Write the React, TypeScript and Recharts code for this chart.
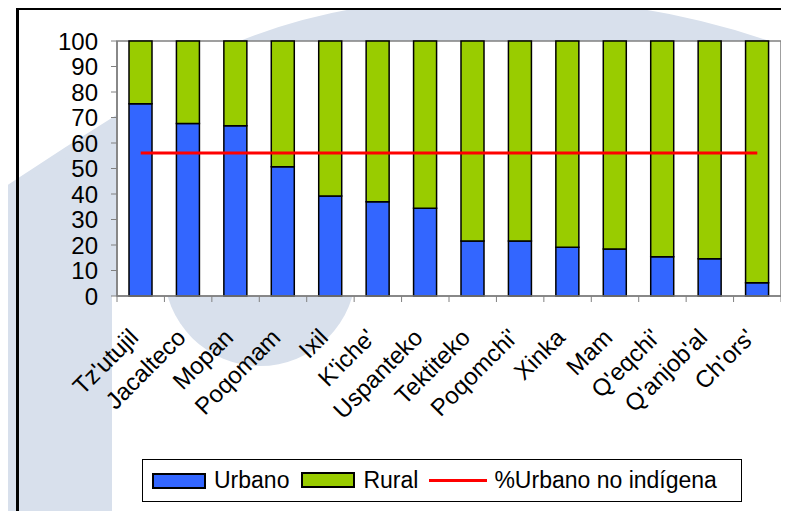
import * as React from "react";
import {
  BarChart,
  Bar,
  Line,
  XAxis,
  YAxis,
  CartesianGrid,
  ReferenceArea,
  Legend,
} from "recharts";

// Pueblos, ordered as in the original chart
const PUEBLOS = [
  "Tz'utujil",
  "Jacalteco",
  "Mopan",
  "Poqomam",
  "Ixil",
  "K'iche'",
  "Uspanteko",
  "Tektiteko",
  "Poqomchi'",
  "Xinka",
  "Mam",
  "Q'eqchi'",
  "Q'anjob'al",
  "Ch'ors'",
];

// % urbano per pueblo
const URBANO = [75.4, 67.6, 66.8, 50.7, 39.2, 37.0, 34.4, 21.6, 21.6, 19.1, 18.4, 15.4, 14.6, 5.2];

// % urbano of the non-indigenous population (flat reference)
const URBANO_NO_INDIGENA = 56.1;

const Y_TICKS = [0, 10, 20, 30, 40, 50, 60, 70, 80, 90, 100];

const FONT = '"Liberation Sans", Arial, sans-serif';
const BLUE = "#3366ff";
const GREEN = "#99cc00";
const RED = "#ff0000";
const AXIS_GRAY = "#808080";
const WATERMARK = "#d8e0ec";

const data = PUEBLOS.map((name, i) => ({
  name,
  urbano: URBANO[i],
  rural: +(100 - URBANO[i]).toFixed(1),
  noIndigena: URBANO_NO_INDIGENA,
}));

const XTick = (props: any) => {
  const { x, y, payload } = props;
  const half = payload && payload.offset ? payload.offset : 23.7;
  const isLast = payload.value === PUEBLOS[PUEBLOS.length - 1];
  return (
    <g>
      <line x1={x - half} y1={y} x2={x - half} y2={y + 6} stroke={AXIS_GRAY} strokeWidth={1} />
      {isLast && (
        <line x1={x + half} y1={y} x2={x + half} y2={y + 6} stroke={AXIS_GRAY} strokeWidth={1} />
      )}
      <text
        transform={`translate(${x - 1},${y + 43}) rotate(-45)`}
        textAnchor="end"
        fontSize={24}
        fontFamily={FONT}
        fill="#000"
      >
        {payload.value}
      </text>
    </g>
  );
};

const Swatch = ({ color }: { color: string }) => (
  <span
    style={{
      display: "inline-block",
      width: 50,
      height: 12,
      background: color,
      border: "2px solid #000",
      boxSizing: "content-box",
    }}
  />
);

const LegendBox = () => (
  <div
    style={{
      width: 600,
      height: 43,
      boxSizing: "border-box",
      border: "1px solid #000",
      background: "#fff",
      display: "flex",
      alignItems: "center",
      fontFamily: FONT,
      fontSize: 23,
      color: "#000",
      paddingLeft: 9,
      whiteSpace: "nowrap",
    }}
  >
    <Swatch color={BLUE} />
    <span style={{ marginLeft: 8 }}>Urbano</span>
    <span style={{ marginLeft: 12 }}>
      <Swatch color={GREEN} />
    </span>
    <span style={{ marginLeft: 8 }}>Rural</span>
    <span
      style={{
        display: "inline-block",
        marginLeft: 11,
        width: 58,
        height: 3,
        background: RED,
      }}
    />
    <span style={{ marginLeft: 7 }}>%Urbano no indígena</span>
  </div>
);

export default function App() {
  return (
    <div
      style={{
        position: "relative",
        margin: -8,
        width: 789,
        height: 519,
        overflow: "hidden",
        background: "#fff",
      }}
    >
      {/* faint logo watermark behind the chart */}
      <svg width={789} height={519} style={{ position: "absolute", left: 0, top: 0 }}>
        <path
          d="M0,190 Q120,110 240,41 Q340,0 480,-4 Q650,-4 789,48 L789,220 C560,220 300,250 0,330 Z"
          fill={WATERMARK}
        />
        <path d="M0,190 L112,136 L112,519 L0,519 Z" fill={WATERMARK} />
        <ellipse cx={-20} cy={388} rx={28} ry={55} fill="#fff" />
        <path d="M112,296 C112,400 118,470 124,519 L300,519 L300,296 Z" fill="#fff" />
        <circle cx={260} cy={270} r={96} fill={WATERMARK} />
      </svg>
      {/* outer frame */}
      <div
        style={{
          position: "absolute",
          left: 16,
          top: 7,
          width: 800,
          height: 600,
          borderLeft: "3px solid #000",
          borderTop: "3px solid #000",
        }}
      />
      <div style={{ position: "absolute", left: 0, top: 0 }}>
        <BarChart
          width={789}
          height={519}
          data={data}
          margin={{ top: 41, right: 8, left: 17, bottom: 123 }}
          barSize={23}
        >
          <CartesianGrid horizontal={false} vertical={false} fill="#fff" />
          <ReferenceArea
            x1={PUEBLOS[0]}
            x2={PUEBLOS[PUEBLOS.length - 1]}
            y1={0}
            y2={100}
            fill="none"
            stroke={AXIS_GRAY}
            strokeWidth={1.5}
            ifOverflow="visible"
          />
          <XAxis
            dataKey="name"
            interval={0}
            height={100}
            tickSize={0}
            tickMargin={0}
            tickLine={false}
            axisLine={{ stroke: AXIS_GRAY, strokeWidth: 1.5 }}
            tick={<XTick />}
          />
          <YAxis
            width={100}
            domain={[0, 100]}
            ticks={Y_TICKS}
            interval={0}
            tickSize={6}
            tickMargin={13}
            tickLine={{ stroke: AXIS_GRAY }}
            axisLine={{ stroke: AXIS_GRAY, strokeWidth: 1.5 }}
            tick={{ fill: "#000", fontSize: 24, fontFamily: FONT }}
          />
          <Legend
            verticalAlign="middle"
            align="center"
            layout="horizontal"
            wrapperStyle={{ left: 142, top: 459, width: 600, height: 43 }}
            content={<LegendBox />}
          />
          <Bar dataKey="urbano" stackId="a" fill={BLUE} stroke="#000" strokeWidth={1.5} isAnimationActive={false} />
          <Bar dataKey="rural" stackId="a" fill={GREEN} stroke="#000" strokeWidth={1.5} isAnimationActive={false} />
          <Line
            dataKey="noIndigena"
            type="linear"
            stroke={RED}
            strokeWidth={3}
            dot={false}
            activeDot={false}
            isAnimationActive={false}
          />
        </BarChart>
      </div>
    </div>
  );
}
